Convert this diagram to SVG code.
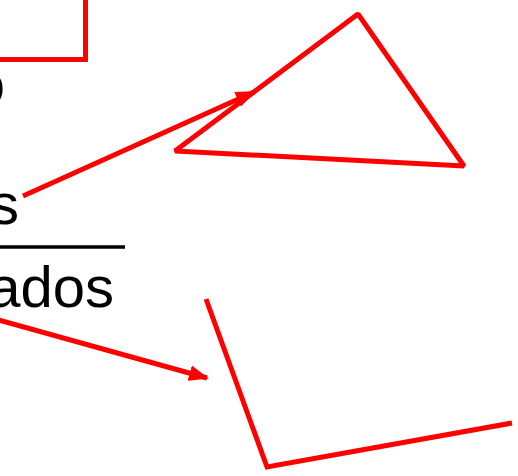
<svg xmlns="http://www.w3.org/2000/svg" width="518" height="476" viewBox="0 0 518 476">
<defs>
<style>
.shape{fill:none;stroke:#ff0000;stroke-width:5;stroke-linejoin:bevel}
.conn{fill:none;stroke:#ff0000;stroke-width:5}
.lbl{font-family:"Liberation Sans",Arial,sans-serif;font-size:58px;fill:#000;text-anchor:end}
</style>
<marker id="ah" viewBox="0 0 20 16" refX="18" refY="8" markerWidth="20" markerHeight="16" markerUnits="userSpaceOnUse" orient="auto">
<path d="M0,0 L20,8 L0,16 Z" fill="#ff0000"/>
</marker>
</defs>
<rect width="518" height="476" fill="#fff"/>
<g id="rect-node"><path class="shape" d="M-10,59.5 L85.5,59.5 L85.5,-10" style="stroke-linejoin:miter"/></g>
<g id="labels">
<text class="lbl" x="5" y="104">o</text>
<text class="lbl" x="19" y="224">s</text>
<line x1="0" y1="247" x2="125" y2="247" stroke="#000" stroke-width="3.5"/>
<text class="lbl" x="114" y="307">ados</text>
</g>
<g id="triangle"><polygon class="shape" points="175,151 358,14 464,166"/></g>
<g id="open-shape"><polyline class="shape" points="206,299 267,467 512,423" style="stroke-linejoin:miter"/></g>
<g id="connectors">
<line class="conn" x1="23" y1="196" x2="254" y2="92" marker-end="url(#ah)"/>
<line class="conn" x1="-5" y1="319" x2="207" y2="378" marker-end="url(#ah)"/>
</g>
</svg>
